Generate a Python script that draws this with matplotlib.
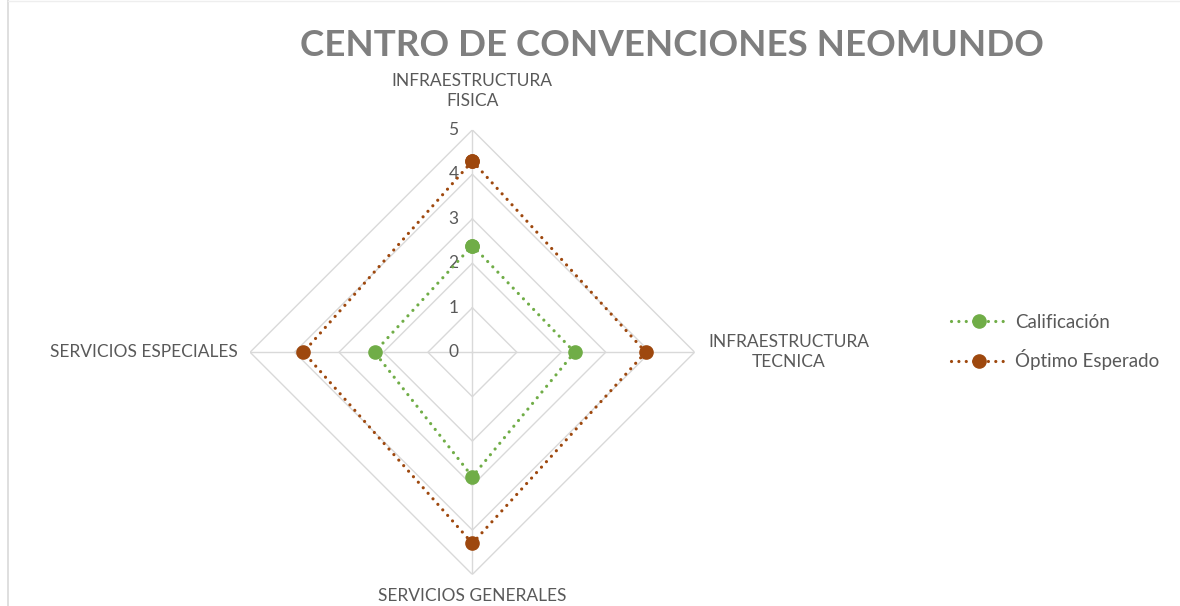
import numpy as np
import matplotlib
matplotlib.use('Agg')
import matplotlib.pyplot as plt
import matplotlib.transforms as mtransforms
from matplotlib.lines import Line2D

# datos del gráfico radar
categorias = ['INFRAESTRUCTURA\nFISICA', 'INFRAESTRUCTURA\nTECNICA',
              'SERVICIOS GENERALES', 'SERVICIOS ESPECIALES']
calificacion = [2.4, 2.3, 2.8, 2.2]
optimo = [4.3, 3.9, 4.3, 3.8]
niveles = [0, 1, 2, 3, 4, 5]

plt.rcParams['font.family'] = ['Lato', 'DejaVu Sans']
gris = '#595959'
verde = '#70AD47'
naranja = '#9E480E'
rejilla = '#D9D9D9'

fig = plt.figure(figsize=(11.8, 6.06), dpi=100)
ax = fig.add_axes([0.2119, 0.052, 0.3768, 0.7336], projection='polar')
ax.set_theta_offset(np.pi / 2)
ax.set_theta_direction(-1)
ax.set_ylim(0, 5)
ax.grid(False)
ax.spines['polar'].set_visible(False)
ax.set_xticks([])
ax.set_yticks([])
ax.patch.set_alpha(0)

n = len(categorias)
ang = np.linspace(0, 2 * np.pi, n, endpoint=False)
ang_c = np.append(ang, ang[0])

# rejilla en forma de rombo
for v in niveles[1:]:
    ax.plot(ang_c, [v] * (n + 1), color=rejilla, lw=1.0, zorder=1)
for a in ang:
    ax.plot([a, a], [0, 5], color=rejilla, lw=1.0, zorder=1)

# etiquetas del eje radial
for v in niveles:
    off = mtransforms.offset_copy(ax.transData, fig=fig, x=-19, y=0, units='dots')
    ax.text(0, v, str(v), transform=off, ha='center', va='center',
            fontsize=12.5, color=gris)

# series
estilo = (0, (0.01, 2.3))
for vals, col, nombre in [(calificacion, verde, 'Calificación'),
                          (optimo, naranja, 'Óptimo Esperado')]:
    ax.plot(ang_c, list(vals) + [vals[0]], color=col, lw=2.3, linestyle=estilo,
            dash_capstyle='round', marker='o', markersize=9.5, label=nombre,
            zorder=3)

# etiquetas de categorías
despl = [(0, 39), (94, 0), (0, -22), (-106, 0)]
for a, lab, (dx, dy) in zip(ang, categorias, despl):
    off = mtransforms.offset_copy(ax.transData, fig=fig, x=dx, y=dy, units='dots')
    ax.text(a, 5, lab, transform=off, ha='center', va='center', fontsize=12.5,
            color=gris, linespacing=1.35)

fig.text(672 / 1180, 1 - 46 / 606, 'CENTRO DE CONVENCIONES NEOMUNDO',
         ha='center', va='center', fontsize=26.5, fontweight='bold', color='#7F7F7F')

leg = fig.legend(loc='center left', bbox_to_anchor=(934 / 1180, 1 - 342 / 606),
                 frameon=False, fontsize=13.5, labelspacing=1.0,
                 handlelength=3.0, handletextpad=0.4, labelcolor=gris)

# borde del área del gráfico
fig.add_artist(Line2D([8 / 1180, 8 / 1180], [0, 1], color=rejilla, lw=1.2))
fig.add_artist(Line2D([8 / 1180, 1], [1 - 1 / 606, 1 - 1 / 606], color='#EEEEEE', lw=1))

fig.savefig('out.png', dpi=100, facecolor='white')
